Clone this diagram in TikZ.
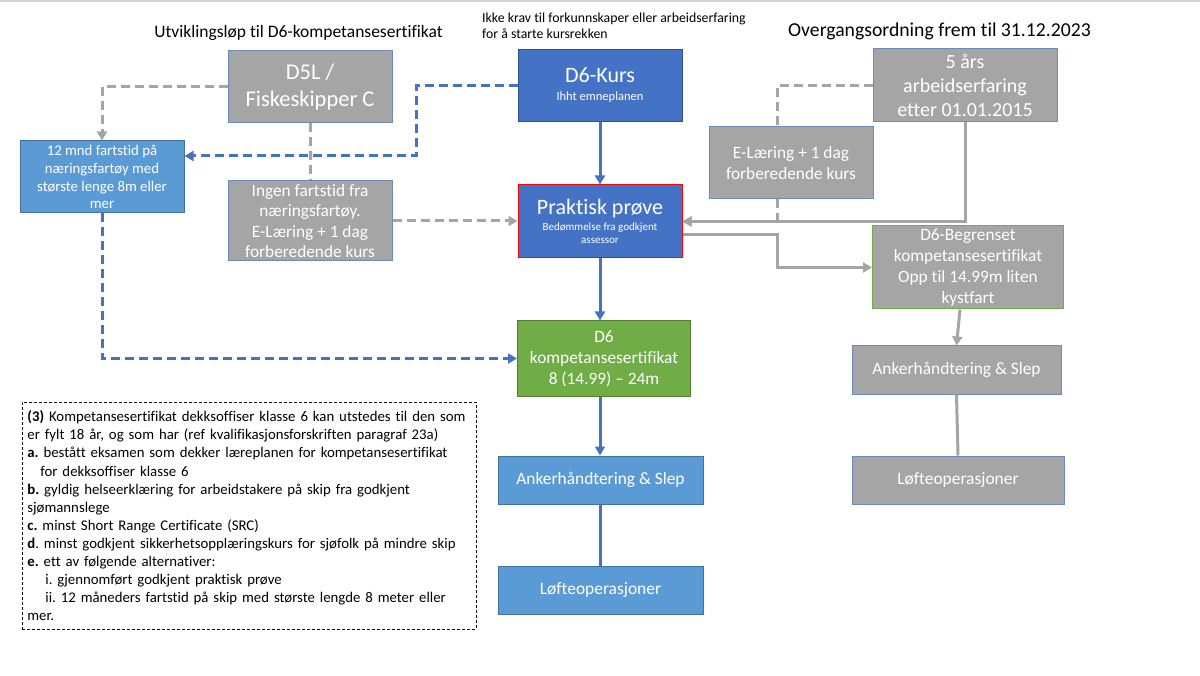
\documentclass[tikz,border=0pt]{standalone}
\usepackage{fontspec}
\setmainfont{Carlito}[Ligatures={NoCommon}]
\usetikzlibrary{arrows.meta,calc}
\definecolor{gfill}{HTML}{A5A5A5}
\definecolor{gbord}{HTML}{6A8CB8}
\definecolor{bfill}{HTML}{4472C4}
\definecolor{bbord}{HTML}{2F528F}
\definecolor{lfill}{HTML}{5B9BD5}
\definecolor{lbord}{HTML}{41719C}
\definecolor{grfill}{HTML}{70AD47}
\definecolor{grbord}{HTML}{507E32}
\definecolor{conblue}{HTML}{4472C4}
\definecolor{congray}{HTML}{A5A5A5}
\definecolor{topline}{HTML}{D4D4D4}
\newcommand{\fsz}[2]{\fontsize{#1pt}{#2pt}\selectfont}
\frenchspacing
\begin{document}
\begin{tikzpicture}[x=1pt,y=-1pt,
  box/.style={rectangle, draw, line width=1pt, text=white, align=center, inner sep=1pt},
  graybox/.style={box, fill=gfill, draw=gbord},
  bluebox/.style={box, fill=bfill, draw=bbord},
  lightbox/.style={box, fill=lfill, draw=lbord},
  greenbox/.style={box, fill=grfill, draw=grbord},
  titletext/.style={text=black, inner sep=0pt},
  arr/.style={-{Triangle[length=9pt,width=10pt]}},
  cblue/.style={draw=conblue, line width=3pt},
  cgray/.style={draw=congray, line width=3pt},
  dsh/.style={dash pattern=on 9pt off 5pt},
]
\useasboundingbox (0,0) rectangle (1200,676);
\fill[topline] (0,0) rectangle (1200,2);

% titles
\node[titletext, font=\fsz{17.5}{21}] (t1) at (298.5,33) {Utviklingsløp til D6-kompetansesertifikat};
\node[titletext, font=\fsz{13.8}{16}, align=left, anchor=west] (t2) at (482,26) {Ikke krav til forkunnskaper eller arbeidserfaring\\for å starte kursrekken};
\node[titletext, font=\fsz{19.7}{23}] (t3) at (939.5,31) {Overgangsordning frem til 31.12.2023};

% boxes
\node[graybox, minimum width=164pt, minimum height=72pt, font=\fsz{22.5}{27}] (d5l) at (310,87) {D5L /\\Fiskeskipper C};
\node[lightbox, minimum width=164pt, minimum height=72pt, font=\fsz{14.8}{17.8}] (mnd) at (102,177) {12 mnd fartstid på\\næringsfartøy med\\største lenge 8m eller\\mer};
\node[graybox, minimum width=164pt, minimum height=80pt, font=\fsz{17.3}{20.5}] (ingen) at (310,221) {Ingen fartstid fra\\næringsfartøy.\\E-Læring + 1 dag\\forberedende kurs};
\node[bluebox, minimum width=164pt, minimum height=72pt, font=\fsz{12.5}{15}] (kurs) at (600,85.5) {{\fsz{22}{24}D6-Kurs}\\[3pt]Ihht emneplanen};
\node[bluebox, draw=red, minimum width=164pt, minimum height=73pt, font=\fsz{11}{13}] (prak) at (600,221.5) {{\fsz{22}{24}Praktisk prøve}\\[3pt]Bedømmelse fra godkjent\\assessor};
\node[graybox, minimum width=164pt, minimum height=72pt, font=\fsz{17.3}{20.5}] (elr) at (791,163) {E-Læring + 1 dag\\forberedende kurs};
\node[graybox, minimum width=184pt, minimum height=73pt, font=\fsz{20}{24}] (fem) at (965,85.5) {5 års\\arbeidserfaring\\etter 01.01.2015};
\node[graybox, draw=grfill, minimum width=191pt, minimum height=83pt, font=\fsz{17.3}{21}] (begr) at (968,267.5) {D6-Begrenset\\kompetansesertifikat\\Opp til 14.99m liten\\kystfart};
\node[greenbox, minimum width=173pt, minimum height=75pt, font=\fsz{17.3}{21}] (komp) at (604,358.5) {D6\\kompetansesertifikat\\8 (14.99) – 24m};
\node[lightbox, minimum width=205pt, minimum height=48pt, font=\fsz{17.4}{21}] (ankb) at (600.5,480) {Ankerhåndtering \& Slep};
\node[lightbox, minimum width=205pt, minimum height=48pt, font=\fsz{17.4}{21}] (lofb) at (600.5,590) {Løfteoperasjoner};
\node[graybox, minimum width=209pt, minimum height=48pt, font=\fsz{17.4}{21}] (rank) at (956.5,370) {Ankerhåndtering \& Slep};
\node[graybox, minimum width=212pt, minimum height=48pt, font=\fsz{17.4}{21}] (rlof) at (958,480) {Løfteoperasjoner};

% rule text box
\node[draw=black, dash pattern=on 3pt off 2pt, line width=0.8pt, anchor=north west,
      minimum width=452pt, minimum height=227pt, inner xsep=5pt, inner ysep=4pt,
      text width=444pt, align=left, font=\fsz{14.8}{18.1}] (regel) at (22,402) {%
\textbf{(3)} Kompetansesertifikat dekksoffiser klasse 6 kan utstedes til den som\\
er fylt 18 år, og som har (ref kvalifikasjonsforskriften paragraf 23a)\\
\textbf{a.} bestått eksamen som dekker læreplanen for kompetansesertifikat\\
\hspace*{13pt}for dekksoffiser klasse 6\\
\textbf{b.} gyldig helseerklæring for arbeidstakere på skip fra godkjent\\
sjømannslege\\
\textbf{c.} minst Short Range Certificate (SRC)\\
\textbf{d}. minst godkjent sikkerhetsopplæringskurs for sjøfolk på mindre skip\\
\textbf{e.} ett av følgende alternativer:\\
\hspace*{18pt}i. gjennomført godkjent praktisk prøve\\
\hspace*{18pt}ii. 12 måneders fartstid på skip med største lengde 8 meter eller\\
mer.};

% connectors
\draw[cgray, dsh, arr] (d5l.west) -| (mnd.north);
\draw[cgray, dsh] (d5l.south) -- (ingen.north);
\draw[cblue, dsh, arr] (kurs.west) -- ++(-101,0) |- ([yshift=21pt]mnd.east);
\draw[cblue, arr] (kurs.south) -- (prak.north);
\draw[cgray, dsh, arr] (ingen.east) -- (ingen.east -| prak.west);
\draw[cgray, dsh] (fem.west) -| ([xshift=-14pt]elr.north);
\draw[cgray, dsh, arr] ([xshift=-14pt]elr.south) |- (prak.east);
\draw[cgray, arr] (fem.south) |- (prak.east);
\draw[cgray, arr] ([yshift=-13.5pt]prak.east) -- ++(95,0) |- (begr.west);
\draw[cblue, arr] (prak.south) -- (prak.south |- komp.north);
\draw[cblue, dsh, arr] (mnd.south) |- (komp.west);
\draw[cblue, arr] ([xshift=-4pt]komp.south) -- ([xshift=-4pt]komp.south |- ankb.north);
\draw[cblue] (ankb.south) -- (lofb.north);
\draw[cgray, arr] ([xshift=-8pt]begr.south) -- (rank.north);
\draw[cgray] (rank.south) -- (rlof.north);
\end{tikzpicture}
\end{document}
